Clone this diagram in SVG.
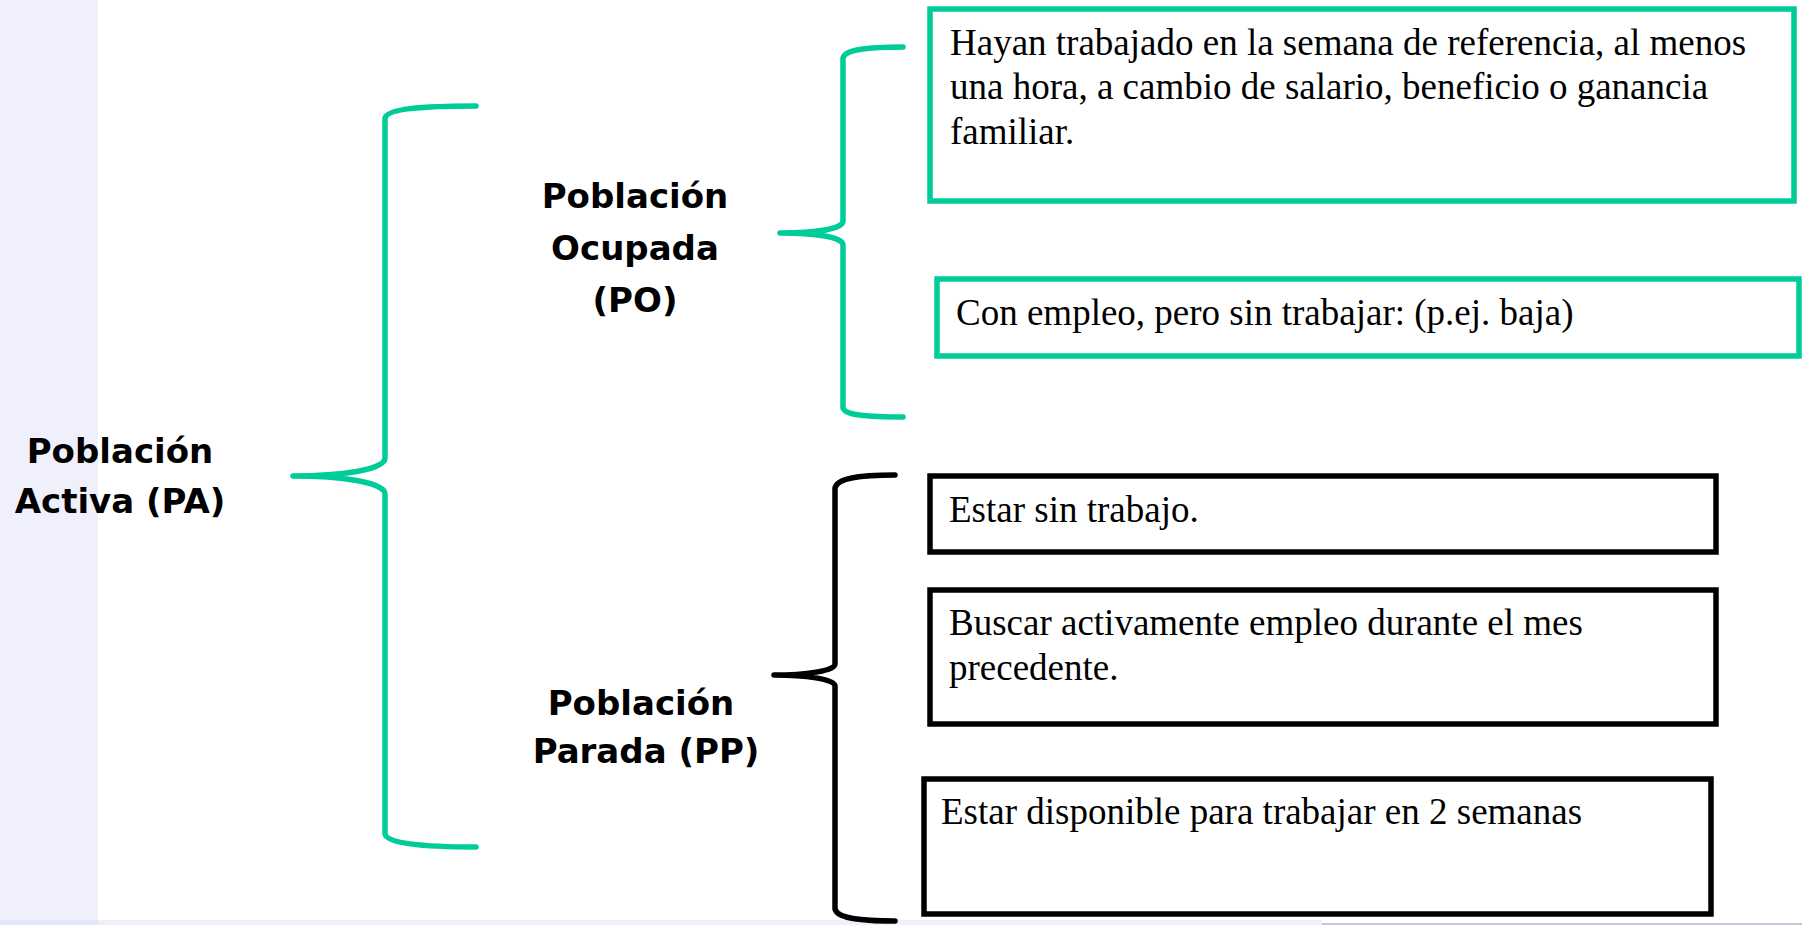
<svg xmlns="http://www.w3.org/2000/svg" width="1802" height="925" viewBox="0 0 1802 925">
<style>
.bg{fill:#F0F0FC}
.lbl{font-family:"DejaVu Sans",sans-serif;font-weight:bold;font-size:34px;fill:#000;text-anchor:middle}
.txt{font-family:"Liberation Serif","Times New Roman",serif;font-size:37px;fill:#000}
.gbox{fill:#fff;stroke:#00CC99;stroke-width:5.5}
.kbox{fill:#fff;stroke:#000;stroke-width:5.5}
.gbr{fill:none;stroke:#00CC99;stroke-width:5.5;stroke-linecap:round;stroke-linejoin:round}
.kbr{fill:none;stroke:#000;stroke-width:5.5;stroke-linecap:round;stroke-linejoin:round}
</style>
<rect x="0" y="0" width="1802" height="925" fill="#fff"/>
<rect class="bg" x="0" y="0" width="98" height="925"/>
<rect class="bg" x="0" y="920" width="1322" height="5"/>
<rect x="0" y="920" width="98" height="5" fill="#E6E6FA"/>
<rect x="1322" y="923" width="480" height="2" fill="#C8C4DC"/>

<g id="connectors">
  <path id="brace-pa" class="gbr" d="M476,106 C420,106 387,109 385,118 L385,458 C385,470 340,476 293,476 C340,476 385,482 385,494 L385,834 C387,843 420,847 476,847"/>
  <path id="brace-po" class="gbr" d="M903,47 C865,47 845,50 843,58 L843,221 C843,229 815,233 780,233 C815,233 843,237 843,245 L843,408 C845,415 865,417 903,417"/>
  <path id="brace-pp" class="kbr" d="M895,475 C855,475 837,479 835,488 L835,664 C835,671 805,675 774,675 C805,675 835,679 835,686 L835,909 C837,917 855,921 895,921"/>
</g>

<g id="node-pa">
  <text class="lbl" x="120" y="463">Población</text>
  <text class="lbl" x="120" y="513">Activa (PA)</text>
</g>
<g id="node-po">
  <text class="lbl" x="635" y="208">Población</text>
  <text class="lbl" x="635" y="260">Ocupada</text>
  <text class="lbl" x="635" y="312">(PO)</text>
</g>
<g id="node-pp">
  <text class="lbl" x="641" y="715">Población</text>
  <text class="lbl" x="646" y="763">Parada (PP)</text>
</g>

<g id="box1">
  <rect class="gbox" x="930" y="9" width="864" height="192"/>
  <text class="txt" x="950" y="55">Hayan trabajado en la semana de referencia, al menos</text>
  <text class="txt" x="950" y="99">una hora, a cambio de salario, beneficio o ganancia</text>
  <text class="txt" x="950" y="144">familiar.</text>
</g>
<g id="box2">
  <rect class="gbox" x="937" y="279" width="862" height="77"/>
  <text class="txt" x="956" y="325">Con empleo, pero sin trabajar: (p.ej. baja)</text>
</g>
<g id="box3">
  <rect class="kbox" x="930" y="476" width="786" height="76"/>
  <text class="txt" x="949" y="522">Estar sin trabajo.</text>
</g>
<g id="box4">
  <rect class="kbox" x="930" y="590" width="786" height="134"/>
  <text class="txt" x="949" y="635">Buscar activamente empleo durante el mes</text>
  <text class="txt" x="949" y="680">precedente.</text>
</g>
<g id="box5">
  <rect class="kbox" x="924" y="779" width="787" height="135"/>
  <text class="txt" x="941" y="824">Estar disponible para trabajar en 2 semanas</text>
</g>
</svg>
